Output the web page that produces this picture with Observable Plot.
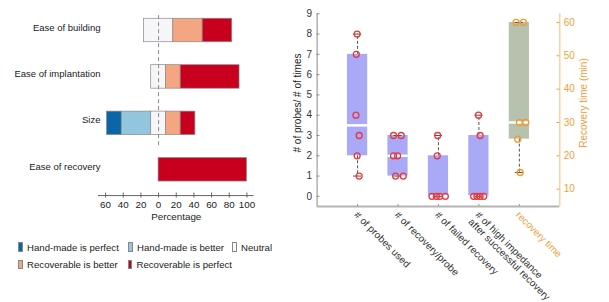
<!DOCTYPE html>
<html><head><meta charset="utf-8">
<script src="https://cdn.jsdelivr.net/npm/d3@7"></script>
<script src="https://cdn.jsdelivr.net/npm/@observablehq/plot@0.6"></script>
<style>
html,body{margin:0;padding:0;background:#fff;}
#wrap{position:relative;width:609px;height:302px;font-family:"Liberation Sans",Arial,sans-serif;overflow:hidden;}
#left{position:absolute;left:0;top:0;}
#right{position:absolute;left:290px;top:0;}
#legend{position:absolute;left:18px;top:238.5px;display:grid;grid-template-columns:110px 104px auto;font-size:9.6px;color:#222;}
.item{display:flex;align-items:center;height:17.3px;white-space:nowrap;}
.sw{width:4.6px;height:9.4px;margin-right:4.5px;box-sizing:border-box;border:0.6px solid #888;}
.ytitle{position:absolute;white-space:nowrap;font-size:10px;line-height:10px;transform:translate(-50%,-50%) rotate(-90deg);}
</style></head>
<body><div id="wrap"><div id="left"></div><div id="right"></div><div id="legend"></div>
<div class="ytitle" id="ytl" style="left:298px;top:103px;color:#222;"></div>
<div class="ytitle" id="ytr" style="left:583.5px;top:103px;color:#f0a03c;"></div>
</div>
<script>
// ---------- left chart data ----------
const aspects = ["Ease of building", "Ease of implantation", "Size", "Ease of recovery"];
const levels = ["Hand-made is perfect", "Hand-made is better", "Neutral", "Recoverable is better", "Recoverable is perfect"];
const levelColors = ["#0a66a8", "#92c5de", "#f6f6f8", "#f4a582", "#c8001e"];
const handPerfect = [0, 0, 16.7, 0];
const handBetter  = [0, 0, 33.3, 0];
const neutral     = [33.3, 16.7, 16.7, 0];
const recBetter   = [33.3, 16.7, 16.7, 0];
const recPerfect  = [33.4, 66.6, 16.6, 100];
const percentTicks = [-60, -40, -20, 0, 20, 40, 60, 80, 100];

// ---------- right chart data ----------
const measures = ["# of probes used", "# of recovery/probe", "# of failed recovery", "# of high impedance\nafter successful recovery", "recovery time"];
const boxQ1  = [2, 1, 0, 0, 25];
const boxMed = [3.5, 2, 0, 0, 30];
const boxQ3  = [7, 3, 2, 3, 60];
const whiskerLo = [1, 1, 0, 0, 15];
const whiskerHi = [8, 3, 3, 4, 60];
const probesUsed      = [8, 7, 4, 3, 2, 1];
const probesUsedJit   = [-0.01, -0.03, -0.04, 0.04, -0.01, 0.04];
const recPerProbe     = [3, 3, 2, 2, 1, 1];
const recPerProbeJit  = [-0.11, 0.08, -0.11, -0.01, -0.06, 0.13];
const failedRec       = [3, 2, 0, 0, 0, 0];
const failedRecJit    = [-0.02, -0.03, -0.16, -0.05, 0.03, 0.17];
const highImp         = [4, 3, 0, 0, 0, 0];
const highImpJit      = [-0.01, 0.03, -0.13, -0.05, 0.03, 0.12];
const recTime         = [60, 60, 30, 30, 25, 15];
const recTimeJit      = [-0.08, 0.1, 0.0, 0.16, -0.04, 0.02];
const leftTicks  = [0, 1, 2, 3, 4, 5, 6, 7, 8, 9];
const rightTicks = [10, 20, 30, 40, 50, 60];
const leftDomain  = [-0.5, 9];
const rightDomain = [4.8, 62.6];
const leftTitle  = "# of probes/ # of times";
const rightTitle = "Recovery time (min)";

const FONT = '"Liberation Sans", Arial, sans-serif';
const ORANGE = "#f0a03c";

// ---------- left chart ----------
const segs = [];
aspects.forEach((a, i) => {
  const vals = [handPerfect[i], handBetter[i], neutral[i], recBetter[i], recPerfect[i]];
  let x = -neutral[i] / 2 - handBetter[i] - handPerfect[i];
  vals.forEach((v, j) => { if (v > 0) segs.push({i, level: levels[j], x1: x, x2: x + v}); x += v; });
});

const left = Plot.plot({
  width: 280, height: 230,
  marginLeft: 98, marginRight: 26.5, marginTop: 10, marginBottom: 35,
  x: {domain: [-68, 108], label: null, axis: null},
  y: {type: "linear", domain: [0, 3], range: [30, 169.3], axis: null, label: null},
  color: {domain: levels, range: levelColors},
  style: {fontFamily: FONT, fontSize: "9.5px", color: "#222", background: "transparent", overflow: "visible"},
  marks: [
    Plot.rectX(segs, {x1: "x1", x2: "x2", y1: d => d.i - 0.253, y2: d => d.i + 0.253, fill: "level", stroke: "#8a8a8a", strokeWidth: 0.7}),
    Plot.ruleX([0], {y1: -0.32, y2: 2.52, stroke: "#8a8a8a", strokeDasharray: "4,3"}),
    Plot.ruleY([3.555], {stroke: "#666"}),
    Plot.ruleX(percentTicks, {x: d => d, y1: 3.5, y2: 3.61, stroke: "#666"}),
    Plot.axisX(percentTicks, {tickSize: 0, tickPadding: 5.5, tickFormat: d => Math.abs(d), fontSize: 9.8, fill: "#222", label: null}),
    Plot.text(aspects, {frameAnchor: "left", y: (d, i) => i, text: d => d, textAnchor: "end", dx: 2, dy: -3, fontSize: 9.5, fill: "#222"}),
    Plot.text(["Percentage"], {frameAnchor: "bottom", text: d => d, dy: 24, fontSize: 9.8, fill: "#222"})
  ]
});
document.getElementById("left").appendChild(left);

// legend
const leg = document.getElementById("legend");
levels.forEach((l, j) => {
  const it = document.createElement("div"); it.className = "item";
  const sw = document.createElement("span"); sw.className = "sw"; sw.style.background = levelColors[j];
  const tx = document.createElement("span"); tx.textContent = l;
  it.appendChild(sw); it.appendChild(tx); leg.appendChild(it);
});
document.getElementById("ytl").textContent = leftTitle;
document.getElementById("ytr").textContent = rightTitle;

// ---------- right chart ----------
const toLeft = d3.scaleLinear(rightDomain, leftDomain);
const conv = (v, i) => i === 4 ? toLeft(v) : v;
const boxes = measures.map((m, i) => ({
  x: i + 1, q1: conv(boxQ1[i], i), med: conv(boxMed[i], i), q3: conv(boxQ3[i], i),
  lo: conv(whiskerLo[i], i), hi: conv(whiskerHi[i], i), fill: i === 4 ? "#b6c2ad" : "#a9a9f8"
}));
const caps = boxes.flatMap(b => [{x: b.x, y: b.lo}, {x: b.x, y: b.hi}]);
const groups = [[probesUsed, probesUsedJit], [recPerProbe, recPerProbeJit], [failedRec, failedRecJit], [highImp, highImpJit], [recTime, recTimeJit]];
const pts = groups.flatMap(([vals, jit], i) => vals.map((v, k) => ({x: i + 1 + jit[k], y: conv(v, i), c: i === 4 ? "#f29a30" : "#e8383c"})));

const right = Plot.plot({
  width: 319, height: 302,
  marginLeft: 26.6, marginRight: 49.7, marginTop: 13.3, marginBottom: 96,
  x: {domain: [0, 6], axis: null, label: null},
  y: {domain: leftDomain, axis: null, label: null},
  style: {fontFamily: FONT, fontSize: "10px", color: "#222", background: "transparent", overflow: "visible"},
  marks: [
    Plot.rect(boxes, {x1: d => d.x - 0.25, x2: d => d.x + 0.25, y1: "q1", y2: "q3", fill: "fill"}),
    Plot.ruleY(boxes, {y: "med", x1: d => d.x - 0.25, x2: d => d.x + 0.25, stroke: "white", strokeWidth: 2.5}),
    Plot.ruleX(boxes, {x: "x", y1: "q3", y2: "hi", stroke: "#555", strokeDasharray: "3,2"}),
    Plot.ruleX(boxes, {x: "x", y1: "q1", y2: "lo", stroke: "#555", strokeDasharray: "3,2"}),
    Plot.ruleY(caps, {y: "y", x1: d => d.x - 0.1, x2: d => d.x + 0.1, stroke: "#555"}),
    Plot.dot(pts, {x: "x", y: "y", r: 3, stroke: "c", strokeWidth: 1.3, fill: "none"}),
    Plot.ruleX([0], {stroke: "#8c8c8c"}),
    Plot.ruleX([6], {stroke: "#f8cc92", strokeWidth: 1.3}),
    Plot.ruleY([leftDomain[0]], {stroke: "#b4b4b4", strokeWidth: 2}),
    Plot.ruleX([1, 2, 3, 4, 5], {x: d => d, y1: leftDomain[0], y2: leftDomain[0] + 0.1, stroke: "#999"}),
    Plot.ruleY(leftTicks, {y: d => d, x1: 0, x2: 0.07, stroke: "#888"}),
    Plot.axisY(leftTicks, {anchor: "left", tickSize: 0, tickPadding: 5, fontSize: 10, fill: "#333", label: null}),
    Plot.ruleY(rightTicks.map(t => toLeft(t)), {y: d => d, x1: 5.93, x2: 6, stroke: ORANGE}),
    Plot.axisY(rightTicks.map(t => toLeft(t)), {anchor: "right", tickSize: 0, tickPadding: 4, fontSize: 10, fill: ORANGE, tickFormat: d => Math.round(toLeft.invert(d)), label: null}),
    Plot.text(measures, {x: (d, i) => i + 1, frameAnchor: "bottom", text: d => d, rotate: 45, textAnchor: "start", lineAnchor: "top", dx: 1, dy: 4, fontSize: 10, fill: (d, i) => i === 4 ? ORANGE : "#333"})
  ]
});
document.getElementById("right").appendChild(right);
</script>
</body></html>
